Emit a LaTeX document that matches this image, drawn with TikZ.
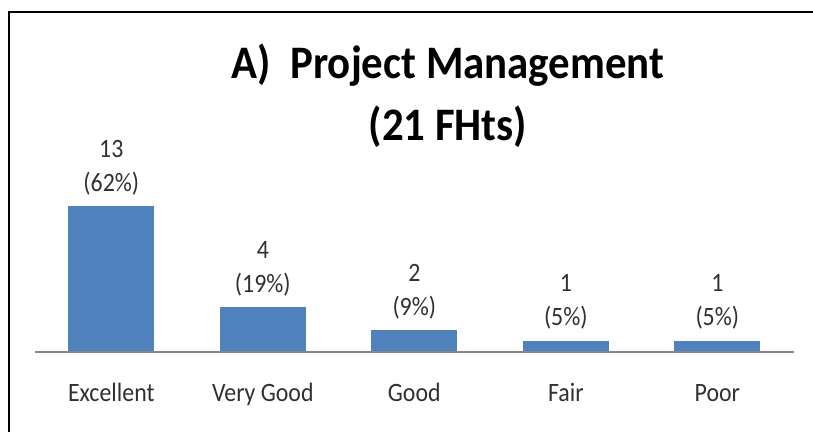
\documentclass[tikz,border=0pt]{standalone}
\usepackage{fontspec}
\usepackage{xcolor}
\usepackage{tikz}
\usetikzlibrary{positioning}
\setmainfont{Carlito}
\newfontfamily\chartfont[FakeStretch=0.9]{Carlito}
\newfontfamily\headfont[FakeStretch=0.92]{Carlito}
\definecolor{barblue}{HTML}{4F81BD}
\definecolor{axisgray}{HTML}{868686}
\definecolor{labelgray}{HTML}{303030}
\tikzset{
  frame/.style   = {line width=2pt, black},
  axis/.style    = {line width=1.3pt, axisgray},
  bar/.style     = {fill=barblue, draw=none},
  heading/.style = {font=\headfont\bfseries\fontsize{46.6}{62}\selectfont,
                    align=center, anchor=base, inner sep=0pt},
  value/.style   = {font=\chartfont\fontsize{26.5}{34}\selectfont,
                    align=center, text=labelgray, anchor=south, inner sep=0pt},
  category/.style = {font=\chartfont\fontsize{26.5}{34}\selectfont,
                    text=labelgray, anchor=base, inner sep=0pt}
}

\begin{document}
\begin{tikzpicture}[x=1pt, y=1pt]
  \useasboundingbox (0,-80) rectangle (813,352);
  % frame
  \draw[frame] (9,-80) -- (9,339.5) -- (813,339.5);
  % title (base is the second line)
  \node[heading] (title) at (448,212) {A)\ \ Project Management\\(21 FHts)};
  % bars
  \fill[bar] (68.3,0) rectangle (154.3,146);
  \fill[bar] (219.8,0) rectangle (305.8,45);
  \fill[bar] (371.3,0) rectangle (457.3,22);
  \fill[bar] (522.8,0) rectangle (608.8,11.5);
  \fill[bar] (674.3,0) rectangle (760.3,11.5);
  % axis
  \draw[axis] (35,0) -- (794,0);
  % value labels
  \node[value] (v1) at (111.3,157) {13\\(62\%)};
  \node[value] (v2) at (262.8,56)  {4\\(19\%)};
  \node[value] (v3) at (414.3,33)  {2\\(9\%)};
  \node[value] (v4) at (565.8,22.5) {1\\(5\%)};
  \node[value] (v5) at (717.3,22.5) {1\\(5\%)};
  % categories
  \node[category] (c1) at (111.3,-49.7) {Excellent};
  \node[category] (c2) at (262.8,-49.7) {Very Good};
  \node[category] (c3) at (414.3,-49.7) {Good};
  \node[category] (c4) at (565.8,-49.7) {Fair};
  \node[category] (c5) at (717.3,-49.7) {Poor};
\end{tikzpicture}
\end{document}
